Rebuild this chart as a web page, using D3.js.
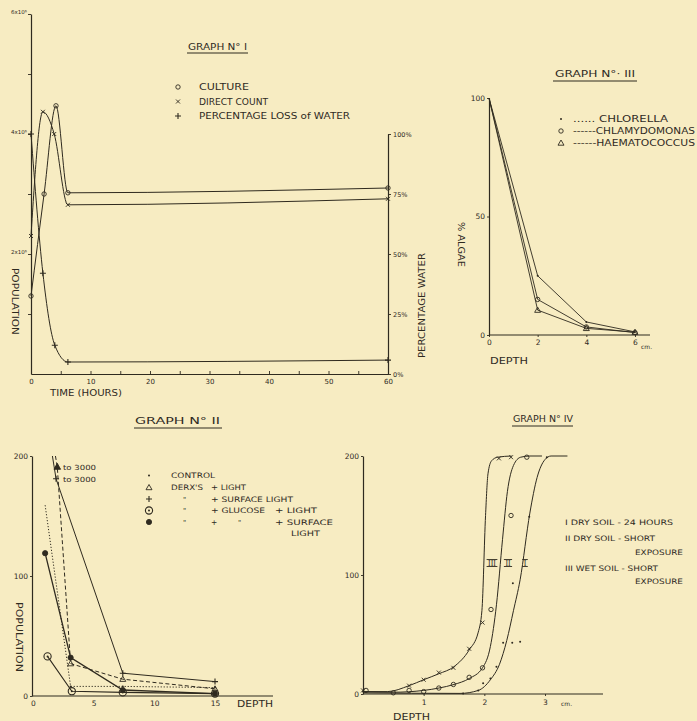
<!DOCTYPE html>
<html><head><meta charset="utf-8">
<script src="https://cdn.jsdelivr.net/npm/d3@7"></script>
<style>body{margin:0;background:#f7ecc2;} svg{display:block}</style>
</head><body><svg id="c" width="697" height="721"></svg>
<script>
// ---------------- DATA ----------------
// Graph I : time (hours) vs population (x10^6) and % loss of water
const g1Culture     = [[0,1.3],[2.2,3.0],[4.2,4.47],[6.2,3.02],[60,3.1]];
const g1DirectCount = [[0,2.3],[2,4.37],[3.9,4.0],[6.2,2.82],[60,2.92]];
const g1WaterLoss   = [[0,100],[2,42],[4,12],[6.2,5],[60,5.8]];
const g1XTicks = [0,10,20,30,40,50,60];
const g1YTicks = [1,2,3,4,5,6];
const g1YLabels = {2:"2x10⁶",4:"4x10⁶",6:"6x10⁶"};
const g1RightTicks = [0,25,50,75,100];
const g1Legend = ["CULTURE","DIRECT COUNT","PERCENTAGE LOSS of WATER"];

// Graph III : depth vs % algae
const g3Depth = [0,2,4,6];
const g3Chlorella = [100,25,5.5,1.3];
const g3Chlamydomonas = [100,15,3.4,1.0];
const g3Haematococcus = [100,10.5,2.8,1.2];
const g3Legend = ["...... CHLORELLA","------CHLAMYDOMONAS","------HAEMATOCOCCUS"];

// Graph II : depth vs population (first two reach 3000, clipped at 200)
const g2Control        = [[1,159],[3.1,8],[7.4,8],[15,7]];
const g2DerxLight      = [[1.85,200],[2,191],[3.1,27],[7.4,14],[15,6]];
const g2SurfaceLight   = [[1.6,200],[1.9,181],[7.4,19],[15,12]];
const g2GlucoseLight   = [[1.2,33],[3.2,4],[7.4,3],[15,2]];
const g2GlucoseSurface = [[1,119],[3.1,32],[7.4,5],[15,2]];
const g2XTicks = [0,5,10,15];
const g2YTicks = [0,100,200];

// Graph IV : depth (cm) vs population, observations and fitted curves
const g4ObsI   = [[0,2],[1.65,0.5],[1.9,3],[1.98,9],[2.1,13],[2.2,23],[2.31,43],[2.46,43],[2.59,44],[2.47,93],[2.74,149],[3.03,199]];
const g4ObsII  = [[0.05,3],[0.5,1],[0.76,3],[1,2],[1.25,5],[1.49,8],[1.75,14],[1.97,22],[2.11,71],[2.44,150],[2.7,199]];
const g4ObsIII = [[0,3],[0.76,7],[1,12],[1.25,18],[1.49,22],[1.75,38],[1.97,60],[2.24,198],[2.44,199]];
const g4CurveI   = [[0,1],[1.6,0.5],[1.9,3],[2.1,12],[2.25,25],[2.37,45],[2.48,70],[2.59,96],[2.75,152],[2.87,182],[3.0,197],[3.1,200],[3.37,200]];
const g4CurveII  = [[0,2],[0.5,1.5],[1,3],[1.25,5],[1.5,8],[1.75,13],[1.97,22],[2.1,40],[2.2,75],[2.3,130],[2.38,170],[2.48,192],[2.6,199],[2.75,200],[2.95,200]];
const g4CurveIII = [[0,2],[0.4,2],[0.76,7],[1,12],[1.25,17],[1.5,23],[1.75,37],[1.9,52],[1.96,70],[2.02,150],[2.06,185],[2.12,196],[2.22,199],[2.45,200]];
const g4XTicks = [1,2,3];
const g4YTicks = [0,100,200];
const g4CurveLabels = ["III","II","I"];
const g4Legend = [["I DRY SOIL - 24 HOURS"],["II DRY SOIL - SHORT","EXPOSURE"],["III WET SOIL - SHORT","EXPOSURE"]];

// ---------------- DRAWING ----------------
const INK = '#2f2a1f';
const FONT = "'DejaVu Sans', sans-serif";
const svg = d3.select('#c');
svg.append('rect').attr('width',697).attr('height',721).attr('fill','#f7ecc2');

function T(x,y,s,size,opt={}){
  const e = svg.append('text').attr('x',x).attr('y',y).text(s)
    .attr('font-family',opt.font||FONT).attr('font-size',size).attr('fill',INK)
    .attr('text-anchor',opt.anchor||'start');
  if(opt.w){e.attr('textLength',opt.w).attr('lengthAdjust','spacingAndGlyphs');}
  if(opt.rot!==undefined){e.attr('transform',`rotate(${opt.rot},${x},${y})`);}
  return e;
}
function U(x1,x2,y,w){svg.append('line').attr('x1',x1).attr('x2',x2).attr('y1',y).attr('y2',y).attr('stroke',INK).attr('stroke-width',w||1);}
function M(type,x,y){
  const g = svg.append('g').attr('stroke',INK).attr('fill','none').attr('stroke-width',0.9);
  if(type==='o'){g.append('circle').attr('cx',x).attr('cy',y).attr('r',2.2);}
  else if(type==='x'){g.append('path').attr('d',`M${x-2},${y-2}L${x+2},${y+2}M${x-2},${y+2}L${x+2},${y-2}`);}
  else if(type==='+'){g.append('path').attr('d',`M${x-3},${y}L${x+3},${y}M${x},${y-3}L${x},${y+3}`).attr('stroke-width',1.1);}
  else if(type==='tri'){g.append('path').attr('d',`M${x},${y-3}L${x+3},${y+2.2}L${x-3},${y+2.2}Z`);}
  else if(type==='trif'){g.append('path').attr('d',`M${x},${y-3.5}L${x+3.3},${y+2.5}L${x-3.3},${y+2.5}Z`).attr('fill',INK);}
  else if(type==='dot'){g.append('circle').attr('cx',x).attr('cy',y).attr('r',1).attr('fill',INK).attr('stroke','none');}
  else if(type==='bull'){g.append('circle').attr('cx',x).attr('cy',y).attr('r',2.6).attr('fill',INK);}
  else if(type==='odot'){g.append('circle').attr('cx',x).attr('cy',y).attr('r',3.6).attr('stroke-width',1.1);
    g.append('circle').attr('cx',x).attr('cy',y).attr('r',1).attr('fill',INK).attr('stroke','none');}
}
function roman(x,y,s,h){ // roman numeral with top/bottom bars, centred on x, baseline y
  const w = s.length*2.6+3;
  T(x,y,s,h,{anchor:'middle',font:"'Liberation Serif', serif",w:s.length*2.6});
  U(x-w/2,x+w/2,y-h*0.72,0.9); U(x-w/2,x+w/2,y+0.5,0.9);
}
function styleAxis(g,fs){
  g.selectAll('.domain').attr('stroke',INK).attr('stroke-width',1.2);
  g.selectAll('.tick line').attr('stroke',INK).attr('stroke-width',0.9);
  g.selectAll('text').attr('fill',INK).attr('font-family',FONT).attr('font-size',fs);
}
function path(data,x,y,curve,dash,w){
  svg.append('path').datum(data)
    .attr('d',d3.line().x(d=>x(d[0])).y(d=>y(d[1])).curve(curve))
    .attr('fill','none').attr('stroke',INK).attr('stroke-width',w||1)
    .attr('stroke-dasharray',dash||null);
}

// ===== GRAPH I =====
{
  const x = d3.scaleLinear().domain([0,60]).range([31,388]);
  const yL = d3.scaleLinear().domain([0,6]).range([374,14]);
  const yR = d3.scaleLinear().domain([0,100]).range([374,134]);
  const ax = svg.append('g').attr('transform','translate(0,374)')
    .call(d3.axisBottom(x).tickValues(d3.range(0,61,5)).tickSize(-3).tickSizeOuter(0)
      .tickFormat(d=>g1XTicks.includes(d)?d:'').tickPadding(5));
  styleAxis(ax,7);
  const al = svg.append('g').attr('transform','translate(31,0)')
    .call(d3.axisLeft(yL).tickValues(g1YTicks).tickSize(3).tickSizeOuter(0)
      .tickFormat(d=>g1YLabels[d]||'').tickPadding(1));
  styleAxis(al,5.5);
  al.selectAll('.tick text').attr('dy','-0.1em');
  const ar = svg.append('g').attr('transform','translate(388,0)')
    .call(d3.axisRight(yR).tickValues(g1RightTicks).tickSize(3).tickSizeOuter(0)
      .tickFormat(d=>d+'%').tickPadding(2));
  styleAxis(ar,6.5);

  path(g1Culture,x,yL,d3.curveMonotoneX);
  path(g1DirectCount,x,yL,d3.curveMonotoneX);
  path(g1WaterLoss,x,yR,d3.curveMonotoneX);
  g1Culture.forEach(d=>M('o',x(d[0]),yL(d[1])));
  g1DirectCount.forEach(d=>M('x',x(d[0]),yL(d[1])));
  g1WaterLoss.forEach(d=>M('+',x(d[0]),yR(d[1])));

  T(188,50,'GRAPH N° I',9,{w:59}); U(187,248,53);
  const sym=['o','x','+'];
  g1Legend.forEach((s,i)=>{ M(sym[i],178,87+i*14.5); T(199,90+i*14.5,s,9,{w:[50,69,151][i]}); });
  T(12,268,'POPULATION',9,{rot:90,w:67});
  T(50,396,'TIME (HOURS)',8.5,{w:72});
  T(425,358,'PERCENTAGE WATER',8.5,{rot:-90,w:105});
}

// ===== GRAPH III =====
{
  const x = d3.scaleLinear().domain([0,6]).range([489,635]);
  const y = d3.scaleLinear().domain([0,100]).range([335,98]);
  svg.append('line').attr('x1',489).attr('x2',650).attr('y1',335).attr('y2',335).attr('stroke',INK).attr('stroke-width',1.2);
  const ax = svg.append('g').attr('transform','translate(0,335)')
    .call(d3.axisBottom(x).tickValues(g3Depth).tickSize(2).tickSizeOuter(0).tickFormat(d=>d).tickPadding(3));
  ax.select('.domain').remove(); styleAxis(ax,7.5);
  const ay = svg.append('g').attr('transform','translate(489,0)')
    .call(d3.axisLeft(y).tickValues([0,50,100]).tickSize(2).tickSizeOuter(0).tickPadding(2));
  styleAxis(ay,7.5);
  T(641,349,'cm.',6);
  const ser=[[g3Chlorella,'dot'],[g3Chlamydomonas,'o'],[g3Haematococcus,'tri']];
  ser.forEach(([v,m])=>{
    const d=g3Depth.map((k,i)=>[k,v[i]]);
    path(d,x,y,d3.curveLinear,null,0.9);
    d.slice(1).forEach(p=>M(m,x(p[0]),y(p[1])));
  });
  T(555,77,'GRAPH N°· III',9,{w:80}); U(553,637,81);
  const sym=['dot','o','tri'];
  g3Legend.forEach((s,i)=>{ M(sym[i],561,119+i*12); T(573,122+i*12,s,8,{w:[95,122,122][i]}); });
  T(458,222,'% ALGAE',8,{rot:90,w:45});
  T(490,364,'DEPTH',8,{w:38});
}

// ===== GRAPH II =====
{
  const x = d3.scaleLinear().domain([0,15]).range([33,215]);
  const y = d3.scaleLinear().domain([0,200]).range([696,456]);
  svg.append('line').attr('x1',32).attr('x2',273).attr('y1',696).attr('y2',696).attr('stroke',INK).attr('stroke-width',1.2);
  const ax = svg.append('g').attr('transform','translate(0,696)')
    .call(d3.axisBottom(x).tickValues(g2XTicks).tickSize(0).tickFormat(d=>d).tickPadding(5));
  ax.select('.domain').remove(); styleAxis(ax,7.5);
  const ay = svg.append('g').attr('transform','translate(32,0)')
    .call(d3.axisLeft(y).tickValues(g2YTicks).tickSize(2).tickSizeOuter(0).tickPadding(2));
  styleAxis(ay,7.5);
  T(237,707,'DEPTH',8,{w:36});
  path(g2Control,x,y,d3.curveLinear,'1.2,1.8',1);
  path(g2DerxLight,x,y,d3.curveLinear,'4,2.5',1);
  path(g2SurfaceLight,x,y,d3.curveLinear,null,1);
  path(g2GlucoseLight,x,y,d3.curveLinear,null,1.1);
  path(g2GlucoseSurface,x,y,d3.curveLinear,null,1.3);
  g2Control.slice(1).forEach(d=>M('dot',x(d[0]),y(d[1])));
  g2DerxLight.filter(d=>d[1]<200).forEach((d,i)=>M(i===0?'trif':'tri',x(d[0]),y(d[1])));
  g2SurfaceLight.filter(d=>d[1]<200).forEach(d=>M('+',x(d[0]),y(d[1])));
  g2GlucoseLight.forEach(d=>M('odot',x(d[0]),y(d[1])));
  g2GlucoseSurface.forEach(d=>M('bull',x(d[0]),y(d[1])));
  T(63,470,'to 3000',7,{w:33});
  T(63,482,'to 3000',7,{w:33});
  T(135,424,'GRAPH  N°  II',9,{w:85}); U(134,222,428);
  T(16,602,'POPULATION',8.5,{rot:90,w:70});
  // legend
  const lx=149, rows=[478,490,501.5,513,524.5];
  ['dot','tri','+','odot','bull'].forEach((m,i)=>M(m,lx,rows[i]-2.5));
  T(171,rows[0],'CONTROL',7.5,{w:44});
  T(171,rows[1],"DERX'S",7.5,{w:32}); T(211,rows[1],'+ LIGHT',7.5,{w:35});
  T(183,rows[2],'"',7); T(211,rows[2],'+ SURFACE LIGHT',7.5,{w:82});
  T(183,rows[3],'"',7); T(211,rows[3],'+ GLUCOSE',7.5,{w:54}); T(275,rows[3],'+ LIGHT',7.5,{w:42});
  T(183,rows[4],'"',7); T(211,rows[4],'+',7.5); T(238,rows[4],'"',7); T(275,rows[4],'+ SURFACE',7.5,{w:58});
  T(291,536,'LIGHT',7.5,{w:29});
}

// ===== GRAPH IV =====
{
  const x = d3.scaleLinear().domain([0,3]).range([363,545]);
  const y = d3.scaleLinear().domain([0,200]).range([694,456]);
  svg.append('line').attr('x1',363).attr('x2',603).attr('y1',694).attr('y2',694).attr('stroke',INK).attr('stroke-width',1.2);
  const ax = svg.append('g').attr('transform','translate(0,694)')
    .call(d3.axisBottom(x).tickValues(g4XTicks).tickSize(2).tickFormat(d=>d).tickPadding(4));
  ax.select('.domain').remove(); styleAxis(ax,7.5);
  const ay = svg.append('g').attr('transform','translate(363,0)')
    .call(d3.axisLeft(y).tickValues(g4YTicks).tickSize(2).tickSizeOuter(0).tickPadding(2));
  styleAxis(ay,7.5);
  T(561,706,'cm.',6);
  T(393,720,'DEPTH',8,{w:37});
  path(g4CurveI,x,y,d3.curveMonotoneX,null,1);
  path(g4CurveII,x,y,d3.curveMonotoneX,null,1);
  path(g4CurveIII,x,y,d3.curveMonotoneX,null,1);
  g4ObsI.forEach(d=>M('dot',x(d[0]),y(d[1])));
  g4ObsII.forEach(d=>M('o',x(d[0]),y(d[1])));
  g4ObsIII.forEach(d=>M('x',x(d[0]),y(d[1])));
  [492,508,525].forEach((px,i)=>roman(px,566,g4CurveLabels[i],9));
  T(513,422,'GRAPH N° IV',9,{w:60}); U(512,573,426);
  T(565,525,g4Legend[0][0],7.5,{w:108});
  T(565,541,g4Legend[1][0],7.5,{w:90}); T(635,555,g4Legend[1][1],7.5,{w:48});
  T(565,571,g4Legend[2][0],7.5,{w:93}); T(635,584,g4Legend[2][1],7.5,{w:48});
}
</script></body></html>
